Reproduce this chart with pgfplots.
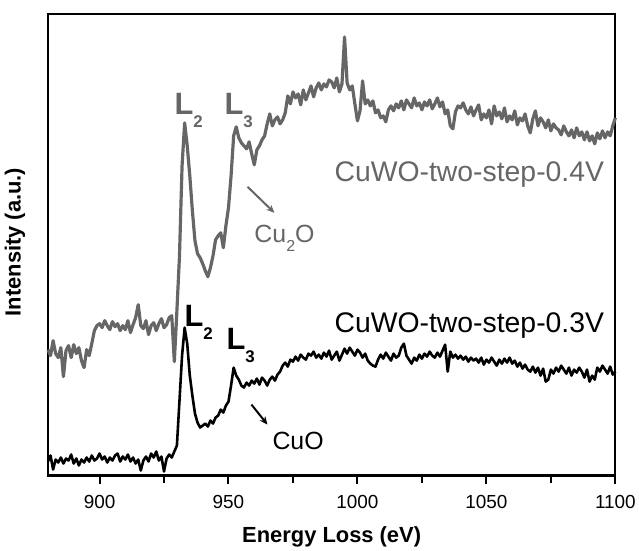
\documentclass[border=0pt]{standalone}
\usepackage{pgfplots}
\pgfplotsset{compat=1.18}
\usepackage{fontspec}
\setmainfont{Liberation Sans}
\usetikzlibrary{calc,arrows.meta}
\definecolor{specgray}{RGB}{102,102,102}

\begin{document}
\begin{tikzpicture}
\begin{axis}[
  name=ax,
  scale only axis,
  width=568bp, height=462bp,
  xmin=880, xmax=1100,
  ymin=0, ymax=462,
  axis line style={line width=2.2pt},
  xtick={900,950,1000,1050,1100},
  minor xtick={925,975,1025,1075},
  ytick=\empty,
  xtick pos=bottom,
  tick align=outside,
  major tick length=9bp,
  minor tick length=8bp,
  every tick/.style={line width=2pt, black},
  xticklabel style={font=\fontsize{19}{20}\selectfont, yshift=-7bp},
  /pgf/number format/assume math mode=true,
  /pgf/number format/1000 sep={},
  xlabel={Energy Loss (eV)},
  ylabel={Intensity (a.u.)},
  label style={font=\fontsize{22}{24}\selectfont\bfseries},
  xlabel style={at={(axis description cs:0.5,0)}, anchor=base, yshift=-67bp},
  ylabel style={at={(axis description cs:-0.058,0.506)}, anchor=center},
  clip=false,
]
% CuWO-two-step-0.4V (gray)
\addplot[specgray, line width=3.2pt, line join=round] coordinates {
(880,126)(881,120)(882,135)(883,122)(884,118)(885,128)(886,99)(887,125)(888,130)(889,118)
(890,131)(891,122)(892,128)(893,115)(894,108)(895,126)(896,120)(897,132)(898,145)(899,150)
(900,152)(901,148)(902,155)(903,150)(904,146)(905,154)(906,149)(907,152)(908,145)(909,150)
(910,146)(911,155)(912,143)(913,151)(914,158)(915,171)(916,150)(917,147)(918,155)(919,141)
(920,150)(921,153)(922,145)(923,152)(924,157)(925,148)(926,151)(927,158)(928,160)(929,114)
(930,165)(931,220)(932,310)(933,353)(934,330)(935,300)(936,265)(937,235)(938,222)(939,218)
(940,212)(941,205)(942,199)(943,208)(944,220)(945,236)(946,240)(947,243)(948,228)(949,250)
(950,268)(951,300)(952,340)(953,349)(954,338)(955,333)(956,330)(957,327)(958,334)(959,322)
(960,311)(961,326)(962,330)(963,336)(964,340)(965,352)(966,362)(967,350)(968,356)(969,359)
(970,352)(971,356)(972,363)(973,380)(974,372)(975,384)(976,378)(977,382)(978,371)(979,386)
(980,376)(981,383)(982,390)(983,379)(984,388)(985,393)(986,386)(987,392)(988,389)(989,396)
(990,394)(991,388)(992,398)(993,384)(994,392)(995,439)(996,393)(997,386)(998,390)(999,372)
(1000,355)(1001,365)(1002,395)(1003,372)(1004,376)(1005,370)(1006,375)(1007,363)(1008,366)(1009,358)
(1010,360)(1011,354)(1012,366)(1013,370)(1014,365)(1015,372)(1016,368)(1017,375)(1018,366)(1019,376)
(1020,372)(1021,368)(1022,378)(1023,370)(1024,373)(1025,366)(1026,374)(1027,370)(1028,376)(1029,367)
(1030,372)(1031,378)(1032,369)(1033,374)(1034,362)(1035,366)(1036,350)(1037,347)(1038,364)(1039,370)
(1040,368)(1041,373)(1042,366)(1043,362)(1044,369)(1045,360)(1046,366)(1047,371)(1048,356)(1049,362)
(1050,358)(1051,366)(1052,352)(1053,370)(1054,360)(1055,364)(1056,357)(1057,368)(1058,354)(1059,360)
(1060,356)(1061,365)(1062,351)(1063,358)(1064,355)(1065,362)(1066,350)(1067,343)(1068,357)(1069,365)
(1070,350)(1071,358)(1072,354)(1073,348)(1074,356)(1075,345)(1076,352)(1077,348)(1078,346)(1079,341)
(1080,350)(1081,344)(1082,340)(1083,346)(1084,338)(1085,348)(1086,340)(1087,344)(1088,336)(1089,344)
(1090,335)(1091,340)(1092,332)(1093,343)(1094,337)(1095,345)(1096,338)(1097,344)(1098,340)(1099,350)
(1100,358)
};
% CuWO-two-step-0.3V (black)
\addplot[black, line width=2.6pt, line join=round] coordinates {
(880,14)(881,20)(882,6)(883,16)(884,13)(885,18)(886,12)(887,17)(888,15)(889,21)
(890,12)(891,17)(892,10)(893,16)(894,13)(895,18)(896,14)(897,20)(898,15)(899,17)
(900,22)(901,16)(902,19)(903,13)(904,18)(905,15)(906,20)(907,22)(908,14)(909,19)
(910,16)(911,21)(912,14)(913,18)(914,12)(915,16)(916,5)(917,15)(918,19)(919,14)
(920,22)(921,18)(922,24)(923,15)(924,19)(925,4)(926,17)(927,21)(928,18)(929,24)
(930,30)(931,75)(932,120)(933,148)(934,132)(935,100)(936,80)(937,62)(938,53)(939,48)
(940,50)(941,52)(942,49)(943,55)(944,52)(945,58)(946,60)(947,66)(948,63)(949,70)
(950,74)(951,90)(952,108)(953,100)(954,96)(955,90)(956,88)(957,93)(958,90)(959,95)
(960,92)(961,97)(962,91)(963,98)(964,95)(965,90)(966,96)(967,99)(968,95)(969,101)
(970,104)(971,110)(972,113)(973,109)(974,116)(975,114)(976,119)(977,115)(978,121)(979,118)
(980,116)(981,122)(982,120)(983,124)(984,118)(985,121)(986,117)(987,123)(988,119)(989,125)
(990,116)(991,120)(992,124)(993,115)(994,121)(995,127)(996,122)(997,128)(998,124)(999,120)
(1000,126)(1001,123)(1002,118)(1003,122)(1004,115)(1005,112)(1006,110)(1007,109)(1008,116)(1009,121)
(1010,117)(1011,123)(1012,119)(1013,115)(1014,122)(1015,118)(1016,120)(1017,128)(1018,132)(1019,120)
(1020,116)(1021,112)(1022,118)(1023,115)(1024,121)(1025,117)(1026,122)(1027,119)(1028,124)(1029,120)
(1030,118)(1031,123)(1032,119)(1033,125)(1034,131)(1035,104)(1036,124)(1037,118)(1038,121)(1039,117)
(1040,120)(1041,116)(1042,119)(1043,114)(1044,118)(1045,115)(1046,117)(1047,113)(1048,118)(1049,111)
(1050,116)(1051,113)(1052,118)(1053,114)(1054,110)(1055,116)(1056,112)(1057,117)(1058,113)(1059,118)
(1060,112)(1061,115)(1062,109)(1063,113)(1064,107)(1065,111)(1066,106)(1067,104)(1068,109)(1069,103)
(1070,108)(1071,100)(1072,107)(1073,94)(1074,96)(1075,106)(1076,102)(1077,108)(1078,104)(1079,110)
(1080,106)(1081,102)(1082,108)(1083,100)(1084,106)(1085,103)(1086,108)(1087,104)(1088,98)(1089,106)
(1090,94)(1091,100)(1092,96)(1093,108)(1094,104)(1095,110)(1096,106)(1097,102)(1098,109)(1099,101)
(1100,104)
};
% annotations, gray spectrum
\node[specgray, anchor=base west, inner sep=0pt, font=\fontsize{31}{31}\selectfont\bfseries]
  at (axis cs:929,361) {L\raisebox{-13bp}{\fontsize{17}{17}\selectfont 2}};
\node[specgray, anchor=base west, inner sep=0pt, font=\fontsize{31}{31}\selectfont\bfseries]
  at (axis cs:948.4,361) {L\raisebox{-13bp}{\fontsize{17}{17}\selectfont 3}};
\node[specgray, anchor=base west, inner sep=0pt, font=\fontsize{25}{25}\selectfont]
  at (axis cs:960,233) {Cu\raisebox{-9bp}{\fontsize{16}{16}\selectfont 2}O};
\draw[specgray, line width=2pt, -{Stealth[length=8bp,width=7bp]}]
  (axis cs:957.4,289) -- (axis cs:967.8,263);
\node[specgray, anchor=base east, inner sep=0pt, font=\fontsize{28.5}{30}\selectfont]
  at (axis cs:1095.7,294) {CuWO-two-step-0.4V};
% annotations, black spectrum
\node[black, anchor=base west, inner sep=0pt, font=\fontsize{31}{31}\selectfont\bfseries]
  at (axis cs:932.9,149) {L\raisebox{-13bp}{\fontsize{17}{17}\selectfont 2}};
\node[black, anchor=base west, inner sep=0pt, font=\fontsize{31}{31}\selectfont\bfseries]
  at (axis cs:949.2,126) {L\raisebox{-13bp}{\fontsize{17}{17}\selectfont 3}};
\node[black, anchor=base west, inner sep=0pt, font=\fontsize{25}{25}\selectfont]
  at (axis cs:967,26) {CuO};
\draw[black, line width=2pt, -{Stealth[length=8bp,width=7bp]}]
  (axis cs:958.9,71) -- (axis cs:965.1,51);
\node[black, anchor=base east, inner sep=0pt, font=\fontsize{28.5}{30}\selectfont]
  at (axis cs:1095.7,143) {CuWO-two-step-0.3V};
\end{axis}
\path ($(ax.south west)+(-48bp,-69bp)$) rectangle ($(ax.north east)+(23bp,14bp)$);
\end{tikzpicture}
\end{document}
